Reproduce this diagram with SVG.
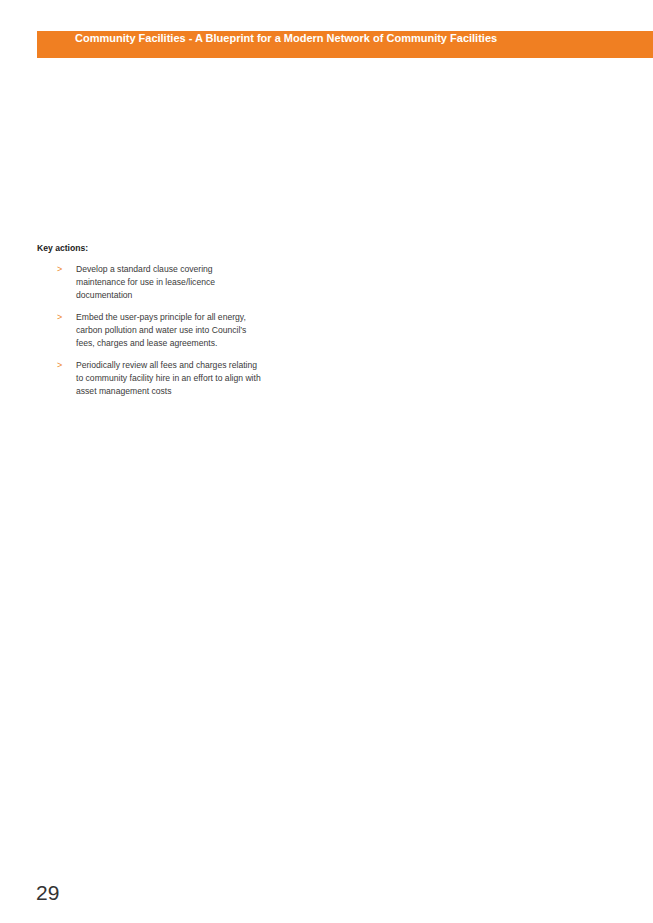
<svg xmlns="http://www.w3.org/2000/svg" width="653" height="923" viewBox="0 0 653 923">
<style>
.t{font-family:"Liberation Sans",Arial,sans-serif;font-size:8.6px;fill:#3a3a3a}
.b{font-family:"Liberation Sans",Arial,sans-serif;font-size:9px;fill:#ee8a2a}
</style>
<rect width="653" height="923" fill="#fff"/>
<g id="banner">
<rect x="37" y="31" width="616" height="27" fill="#f07f22"/>
<text x="75" y="42" font-family="Liberation Sans,Arial,sans-serif" font-size="11" font-weight="bold" fill="#fff">Community Facilities - A Blueprint for a Modern Network of Community Facilities</text>
</g>
<g id="key-actions">
<text x="37" y="251" font-family="Liberation Sans,Arial,sans-serif" font-size="8.6" font-weight="bold" fill="#222">Key actions:</text>
<text class="b" x="57" y="272">&gt;</text>
<text class="t" x="76" y="272">Develop a standard clause covering</text>
<text class="t" x="76" y="285">maintenance for use in lease/licence</text>
<text class="t" x="76" y="298">documentation</text>
<text class="b" x="57" y="320">&gt;</text>
<text class="t" x="76" y="320">Embed the user-pays principle for all energy,</text>
<text class="t" x="76" y="333">carbon pollution and water use into Council’s</text>
<text class="t" x="76" y="346">fees, charges and lease agreements.</text>
<text class="b" x="57" y="368">&gt;</text>
<text class="t" x="76" y="368">Periodically review all fees and charges relating</text>
<text class="t" x="76" y="381">to community facility hire in an effort to align with</text>
<text class="t" x="76" y="394">asset management costs</text>
</g>
<text x="36" y="900" font-family="Liberation Sans,Arial,sans-serif" font-size="21" fill="#333">29</text>
</svg>
